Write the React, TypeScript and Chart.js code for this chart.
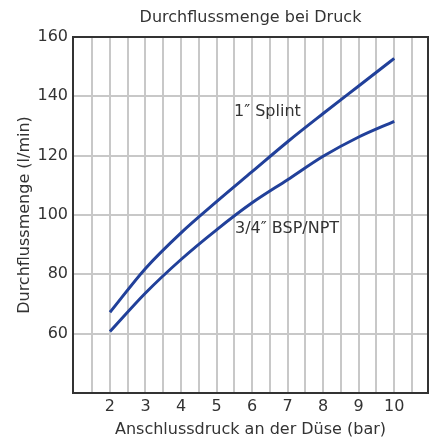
import React, { useEffect, useRef } from "react";
import { Chart, registerables } from "chart.js";

Chart.register(...registerables);

const chartTitle = "Durchflussmenge bei Druck";
const xTitle = "Anschlussdruck an der Düse (bar)";
const yTitle = "Durchflussmenge (l/min)";

const pressures = [2, 3, 4, 5, 6, 7, 8, 9, 10];
const splintFlow = [67.2, 82.0, 94.0, 104.5, 114.6, 124.7, 134.2, 143.5, 152.8];
const bspFlow = [60.7, 73.7, 85.0, 95.0, 104.1, 111.9, 119.8, 126.3, 131.6];

const seriesNames = ["1\u2033 Splint", "3/4\u2033 BSP/NPT"];
// label anchors in data units (x, y)
const labelAnchors = [
  [5.49, 134.7],
  [5.52, 95.2],
];

const xGrid = [1.5, 2, 2.5, 3, 3.5, 4, 4.5, 5, 5.5, 6, 6.5, 7, 7.5, 8, 8.5, 9, 9.5, 10, 10.5];
const yTicks = [40, 60, 80, 100, 120, 140, 160];

const TEXT = "#333333";
const GRID = "#c8c8c8";
const LINE = "#21409a";
const FONT = "'DejaVu Sans', sans-serif";

const boxPlugin = {
  id: "boxAndLabels",
  afterDraw(chart: any) {
    const { ctx, chartArea } = chart;
    const { left, right, top, bottom } = chartArea;
    ctx.save();
    ctx.strokeStyle = TEXT;
    ctx.lineWidth = 2;
    ctx.beginPath();
    ctx.moveTo(left, top);
    ctx.lineTo(right, top);
    ctx.lineTo(right, bottom);
    ctx.stroke();
    ctx.fillStyle = TEXT;
    ctx.font = "16px " + FONT;
    ctx.textAlign = "left";
    ctx.textBaseline = "middle";
    const xs = chart.scales.x;
    const ys = chart.scales.y;
    seriesNames.forEach((name, i) => {
      ctx.fillText(name, xs.getPixelForValue(labelAnchors[i][0]), ys.getPixelForValue(labelAnchors[i][1]));
    });
    ctx.restore();
  },
};

export default function App() {
  const ref = useRef<HTMLCanvasElement>(null);
  useEffect(() => {
    if (!ref.current) return;
    Chart.defaults.font.family = FONT;
    Chart.defaults.font.size = 16;
    Chart.defaults.color = TEXT;
    const chart = new Chart(ref.current, {
      type: "line",
      data: {
        datasets: [
          {
            label: seriesNames[0],
            data: pressures.map((p, i) => ({ x: p, y: splintFlow[i] })),
            borderColor: LINE,
            borderWidth: 3,
            pointRadius: 0,
            cubicInterpolationMode: "monotone",
          },
          {
            label: seriesNames[1],
            data: pressures.map((p, i) => ({ x: p, y: bspFlow[i] })),
            borderColor: LINE,
            borderWidth: 3,
            pointRadius: 0,
            cubicInterpolationMode: "monotone",
          },
        ],
      },
      options: {
        responsive: false,
        animation: false,
        layout: { padding: { left: 0, right: 7, top: 0, bottom: 0 } },
        plugins: {
          legend: { display: false },
          tooltip: { enabled: false },
          title: {
            display: true,
            text: chartTitle,
            fullSize: false,
            color: TEXT,
            font: { size: 16, weight: "normal", family: FONT },
            padding: { top: 8, bottom: 9.8 },
          },
        },
        scales: {
          x: {
            type: "linear",
            min: 0.96,
            max: 10.95,
            afterBuildTicks: (s: any) => {
              s.ticks = xGrid.map((v) => ({ value: v }));
            },
            afterFit: (s: any) => {
              s.height = 46;
            },
            ticks: {
              autoSkip: false,
              maxRotation: 0,
              padding: 4,
              color: TEXT,
              callback: (v: any) => (Number.isInteger(v) && v >= 2 ? String(v) : ""),
            },
            grid: { color: GRID, lineWidth: 2, drawTicks: false },
            border: { display: true, color: TEXT, width: 2 },
            title: { display: true, text: xTitle, color: TEXT, padding: { top: 0, bottom: 0 } },
          },
          y: {
            type: "linear",
            min: 40,
            max: 160,
            afterBuildTicks: (s: any) => {
              s.ticks = yTicks.map((v) => ({ value: v }));
            },
            afterFit: (s: any) => {
              s.width = 73;
            },
            ticks: {
              padding: 5,
              color: TEXT,
              callback: (v: any) => (v === 40 ? "" : String(v)),
            },
            grid: { color: GRID, lineWidth: 2, drawTicks: false },
            border: { display: true, color: TEXT, width: 2 },
            title: { display: true, text: yTitle, color: TEXT, padding: { top: 15, bottom: 0 } },
          },
        },
      },
      plugins: [boxPlugin],
    } as any);
    return () => chart.destroy();
  }, []);
  return (
    <div style={{ position: "absolute", left: 0, top: 0, width: 435, height: 439, background: "#fff" }}>
      <canvas ref={ref} width={435} height={439} />
    </div>
  );
}
